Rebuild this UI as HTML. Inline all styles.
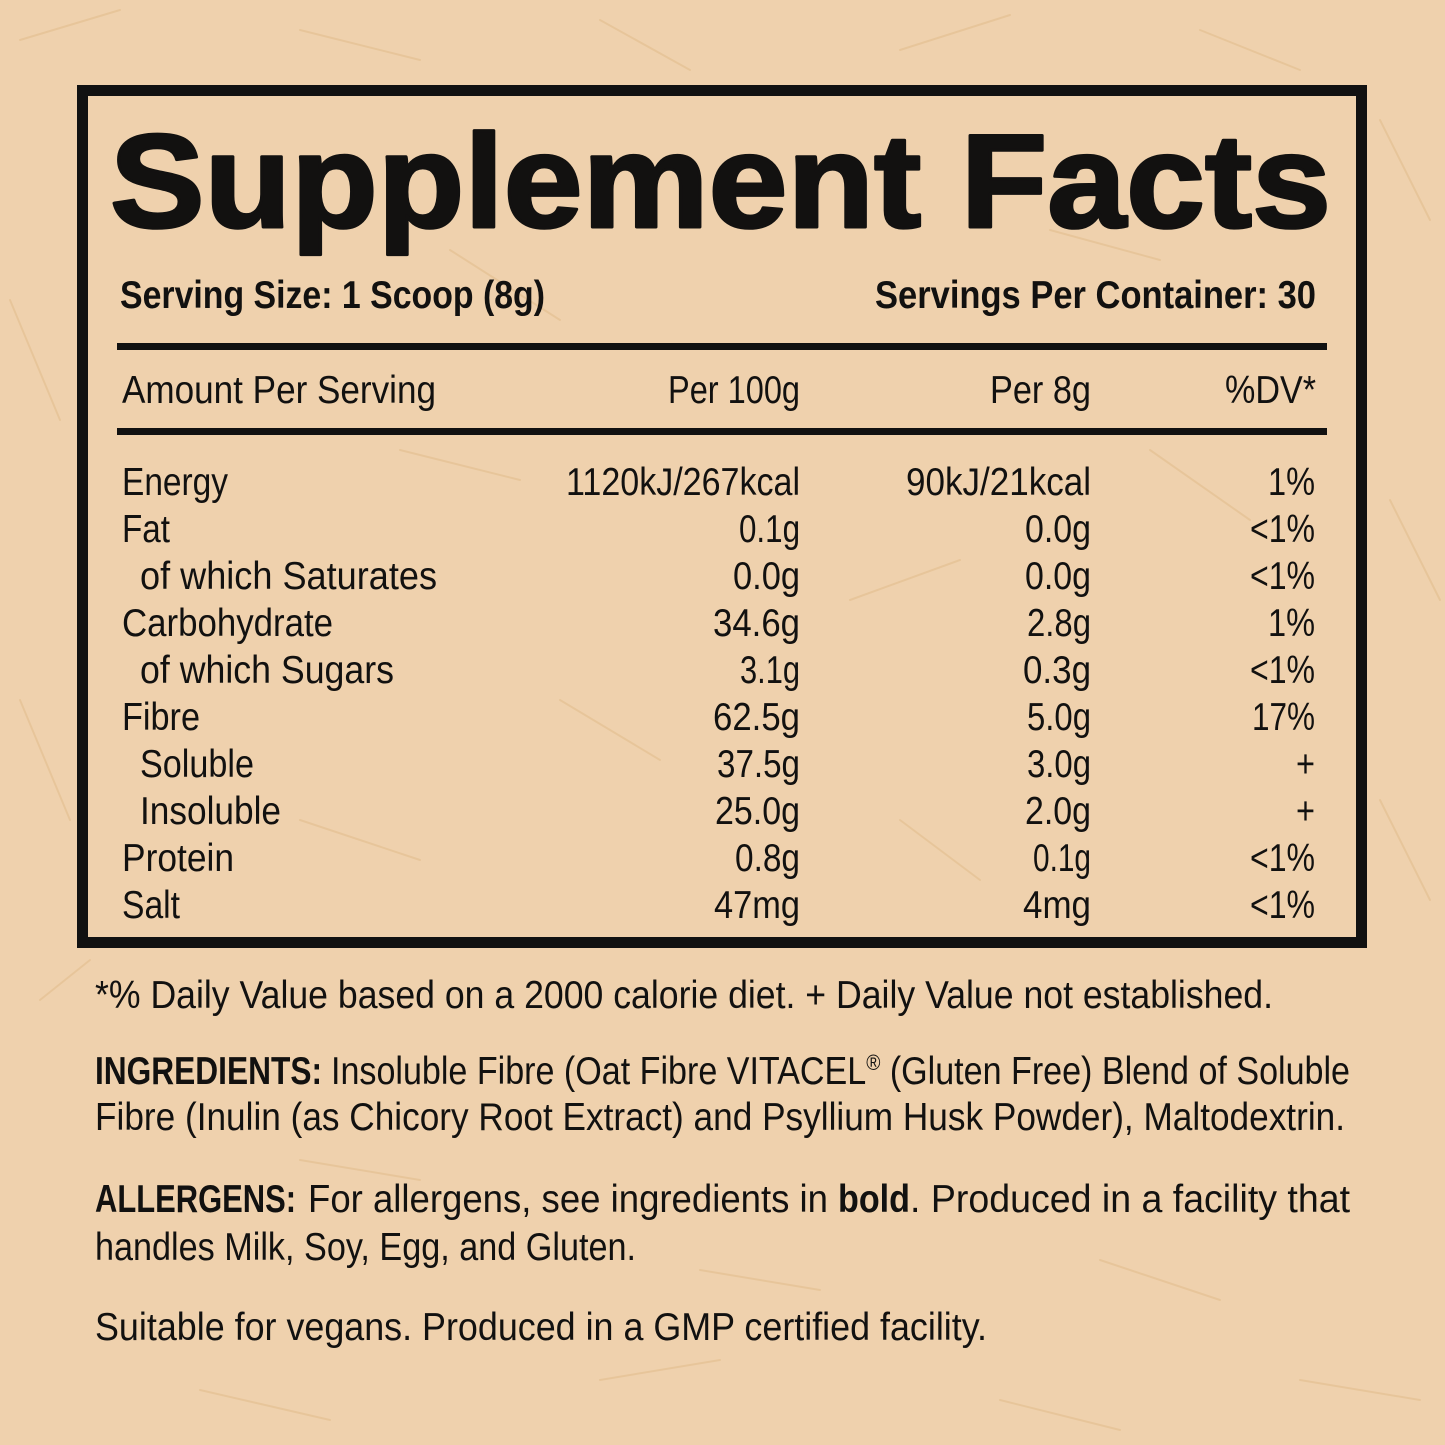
<!DOCTYPE html>
<html>
<head>
<meta charset="utf-8">
<style>
html,body{margin:0;padding:0;background:#efd1ad;}
svg{display:block;}
text{font-family:"Liberation Sans",sans-serif;fill:#121110;}
.r{font-size:39px;}
.b{font-size:39px;font-weight:bold;}
</style>
</head>
<body>
<svg width="1445" height="1445" viewBox="0 0 1445 1445" xmlns="http://www.w3.org/2000/svg">
<rect x="0" y="0" width="1445" height="1445" fill="#efd1ad"/>
<g stroke="#e2bd8c" stroke-width="2" opacity="0.55" stroke-linecap="round">
<line x1="20" y1="40" x2="120" y2="10"/><line x1="300" y1="30" x2="420" y2="60"/><line x1="600" y1="20" x2="690" y2="70"/>
<line x1="900" y1="50" x2="1010" y2="15"/><line x1="1200" y1="30" x2="1300" y2="70"/><line x1="1380" y1="120" x2="1430" y2="220"/>
<line x1="10" y1="300" x2="60" y2="420"/><line x1="1390" y1="500" x2="1440" y2="600"/><line x1="20" y1="700" x2="70" y2="820"/>
<line x1="1380" y1="800" x2="1430" y2="900"/><line x1="40" y1="1000" x2="90" y2="960"/><line x1="300" y1="1160" x2="420" y2="1180"/>
<line x1="700" y1="1270" x2="820" y2="1290"/><line x1="1100" y1="1260" x2="1220" y2="1300"/><line x1="200" y1="1390" x2="330" y2="1420"/>
<line x1="600" y1="1380" x2="720" y2="1360"/><line x1="1000" y1="1400" x2="1120" y2="1430"/><line x1="1300" y1="1380" x2="1420" y2="1400"/>
<line x1="400" y1="450" x2="520" y2="480"/><line x1="560" y1="700" x2="660" y2="760"/><line x1="850" y1="600" x2="960" y2="560"/>
<line x1="1150" y1="450" x2="1250" y2="520"/><line x1="300" y1="820" x2="420" y2="860"/><line x1="900" y1="820" x2="980" y2="880"/>
<line x1="450" y1="250" x2="560" y2="320"/><line x1="1050" y1="230" x2="1160" y2="260"/>
</g>
<!-- box -->
<rect x="82.5" y="90.5" width="1279" height="852" fill="none" stroke="#111" stroke-width="11"/>
<!-- title -->
<text x="110" y="227" font-size="133" font-weight="bold" stroke="#121110" stroke-width="3" stroke-linejoin="round" textLength="1221" lengthAdjust="spacingAndGlyphs">Supplement Facts</text>
<!-- serving -->
<text class="b" x="120" y="308" textLength="425" lengthAdjust="spacingAndGlyphs">Serving Size: 1 Scoop (8g)</text>
<text class="b" x="1316" y="308" text-anchor="end" textLength="441" lengthAdjust="spacingAndGlyphs">Servings Per Container: 30</text>
<rect x="117" y="343" width="1210" height="7" fill="#111"/>
<text class="r" x="122" y="403" textLength="314" lengthAdjust="spacingAndGlyphs">Amount Per Serving</text>
<text class="r" x="800" y="403" text-anchor="end" textLength="132" lengthAdjust="spacingAndGlyphs">Per 100g</text>
<text class="r" x="1091" y="403" text-anchor="end" textLength="101" lengthAdjust="spacingAndGlyphs">Per 8g</text>
<text class="r" x="1316" y="403" text-anchor="end" textLength="91" lengthAdjust="spacingAndGlyphs">%DV*</text>
<rect x="117" y="428" width="1210" height="7" fill="#111"/>
<!-- rows -->
<g class="r">
<text class="r" x="122" y="495" textLength="106" lengthAdjust="spacingAndGlyphs">Energy</text>
<text class="r" x="800" y="495" text-anchor="end" textLength="234" lengthAdjust="spacingAndGlyphs">1120kJ/267kcal</text>
<text class="r" x="1091" y="495" text-anchor="end" textLength="185" lengthAdjust="spacingAndGlyphs">90kJ/21kcal</text>
<text class="r" x="1315" y="495" text-anchor="end" textLength="47" lengthAdjust="spacingAndGlyphs">1%</text>

<text class="r" x="122" y="542" textLength="48" lengthAdjust="spacingAndGlyphs">Fat</text>
<text class="r" x="800" y="542" text-anchor="end" textLength="61" lengthAdjust="spacingAndGlyphs">0.1g</text>
<text class="r" x="1091" y="542" text-anchor="end" textLength="66" lengthAdjust="spacingAndGlyphs">0.0g</text>
<text class="r" x="1315" y="542" text-anchor="end" textLength="65" lengthAdjust="spacingAndGlyphs">&lt;1%</text>

<text class="r" x="140" y="589" textLength="297" lengthAdjust="spacingAndGlyphs">of which Saturates</text>
<text class="r" x="800" y="589" text-anchor="end" textLength="67" lengthAdjust="spacingAndGlyphs">0.0g</text>
<text class="r" x="1091" y="589" text-anchor="end" textLength="66" lengthAdjust="spacingAndGlyphs">0.0g</text>
<text class="r" x="1315" y="589" text-anchor="end" textLength="65" lengthAdjust="spacingAndGlyphs">&lt;1%</text>

<text class="r" x="122" y="636" textLength="211" lengthAdjust="spacingAndGlyphs">Carbohydrate</text>
<text class="r" x="800" y="636" text-anchor="end" textLength="87" lengthAdjust="spacingAndGlyphs">34.6g</text>
<text class="r" x="1091" y="636" text-anchor="end" textLength="64" lengthAdjust="spacingAndGlyphs">2.8g</text>
<text class="r" x="1315" y="636" text-anchor="end" textLength="47" lengthAdjust="spacingAndGlyphs">1%</text>

<text class="r" x="140" y="683" textLength="254" lengthAdjust="spacingAndGlyphs">of which Sugars</text>
<text class="r" x="800" y="683" text-anchor="end" textLength="60" lengthAdjust="spacingAndGlyphs">3.1g</text>
<text class="r" x="1091" y="683" text-anchor="end" textLength="68" lengthAdjust="spacingAndGlyphs">0.3g</text>
<text class="r" x="1315" y="683" text-anchor="end" textLength="65" lengthAdjust="spacingAndGlyphs">&lt;1%</text>

<text class="r" x="122" y="730" textLength="78" lengthAdjust="spacingAndGlyphs">Fibre</text>
<text class="r" x="800" y="730" text-anchor="end" textLength="87" lengthAdjust="spacingAndGlyphs">62.5g</text>
<text class="r" x="1091" y="730" text-anchor="end" textLength="64" lengthAdjust="spacingAndGlyphs">5.0g</text>
<text class="r" x="1315" y="730" text-anchor="end" textLength="63" lengthAdjust="spacingAndGlyphs">17%</text>

<text class="r" x="140" y="777" textLength="114" lengthAdjust="spacingAndGlyphs">Soluble</text>
<text class="r" x="800" y="777" text-anchor="end" textLength="83" lengthAdjust="spacingAndGlyphs">37.5g</text>
<text class="r" x="1091" y="777" text-anchor="end" textLength="64" lengthAdjust="spacingAndGlyphs">3.0g</text>
<text class="r" x="1315" y="777" text-anchor="end" textLength="19" lengthAdjust="spacingAndGlyphs">+</text>

<text class="r" x="140" y="824" textLength="141" lengthAdjust="spacingAndGlyphs">Insoluble</text>
<text class="r" x="800" y="824" text-anchor="end" textLength="85" lengthAdjust="spacingAndGlyphs">25.0g</text>
<text class="r" x="1091" y="824" text-anchor="end" textLength="66" lengthAdjust="spacingAndGlyphs">2.0g</text>
<text class="r" x="1315" y="824" text-anchor="end" textLength="19" lengthAdjust="spacingAndGlyphs">+</text>

<text class="r" x="122" y="871" textLength="112" lengthAdjust="spacingAndGlyphs">Protein</text>
<text class="r" x="800" y="871" text-anchor="end" textLength="65" lengthAdjust="spacingAndGlyphs">0.8g</text>
<text class="r" x="1091" y="871" text-anchor="end" textLength="58" lengthAdjust="spacingAndGlyphs">0.1g</text>
<text class="r" x="1315" y="871" text-anchor="end" textLength="65" lengthAdjust="spacingAndGlyphs">&lt;1%</text>

<text class="r" x="122" y="918" textLength="58" lengthAdjust="spacingAndGlyphs">Salt</text>
<text class="r" x="800" y="918" text-anchor="end" textLength="86" lengthAdjust="spacingAndGlyphs">47mg</text>
<text class="r" x="1091" y="918" text-anchor="end" textLength="68" lengthAdjust="spacingAndGlyphs">4mg</text>
<text class="r" x="1315" y="918" text-anchor="end" textLength="65" lengthAdjust="spacingAndGlyphs">&lt;1%</text>
</g>
<!-- footer -->
<text class="r" x="95" y="1008" textLength="1178" lengthAdjust="spacingAndGlyphs">*% Daily Value based on a 2000 calorie diet. + Daily Value not established.</text>

<text class="b" x="95" y="1084" textLength="227" lengthAdjust="spacingAndGlyphs">INGREDIENTS:</text>
<text class="r" x="331" y="1084" textLength="1019" lengthAdjust="spacingAndGlyphs">Insoluble Fibre (Oat Fibre VITACEL<tspan font-size="22" dy="-14">®</tspan><tspan dy="14"> (Gluten Free) Blend of Soluble</tspan></text>
<text class="r" x="95" y="1130" textLength="1250" lengthAdjust="spacingAndGlyphs">Fibre (Inulin (as Chicory Root Extract) and Psyllium Husk Powder), Maltodextrin.</text>

<text class="b" x="95" y="1212" textLength="201" lengthAdjust="spacingAndGlyphs">ALLERGENS:</text>
<text class="r" x="308" y="1212" textLength="520" lengthAdjust="spacingAndGlyphs">For allergens, see ingredients in</text>
<text class="b" x="838" y="1212" textLength="72" lengthAdjust="spacingAndGlyphs">bold</text>
<text class="r" x="910" y="1212" textLength="440" lengthAdjust="spacingAndGlyphs">. Produced in a facility that</text>
<text class="r" x="95" y="1260" textLength="541" lengthAdjust="spacingAndGlyphs">handles Milk, Soy, Egg, and Gluten.</text>

<text class="r" x="95" y="1340" textLength="892" lengthAdjust="spacingAndGlyphs">Suitable for vegans. Produced in a GMP certified facility.</text>
</svg>
</body>
</html>
